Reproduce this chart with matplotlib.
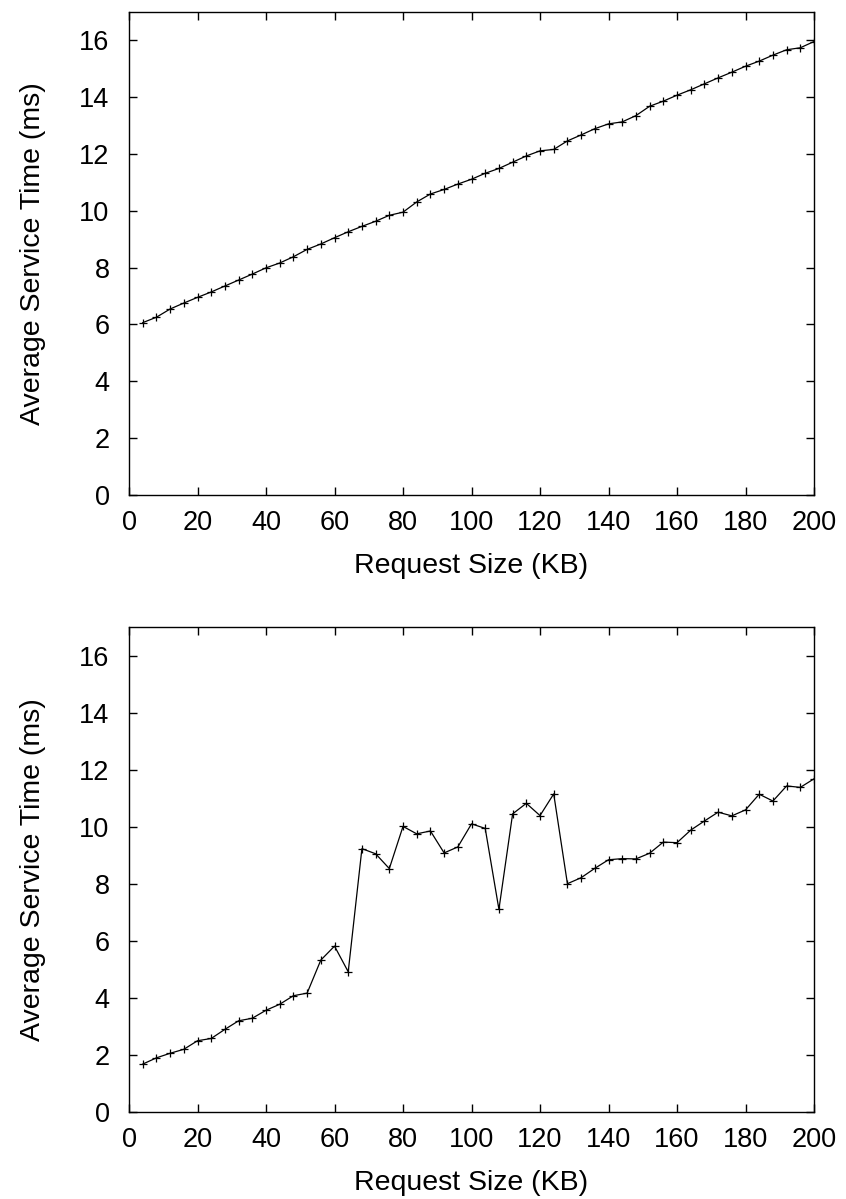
import matplotlib
matplotlib.use("Agg")
import matplotlib.pyplot as plt

plt.rcParams["font.family"] = ["Liberation Sans", "DejaVu Sans"]

# Request sizes (KB), same for both panels
request_kb = list(range(4, 201, 4))

# Top panel: average service time (ms)
top_ms = [
    6.06, 6.25, 6.54, 6.75, 6.95, 7.14, 7.35, 7.56, 7.77, 7.99,
    8.16, 8.38, 8.64, 8.83, 9.05, 9.26, 9.45, 9.63, 9.84, 9.95,
    10.31, 10.59, 10.75, 10.94, 11.11, 11.32, 11.49, 11.71, 11.93, 12.11,
    12.16, 12.46, 12.67, 12.89, 13.06, 13.13, 13.35, 13.68, 13.86, 14.07,
    14.26, 14.47, 14.68, 14.88, 15.09, 15.27, 15.48, 15.67, 15.74, 15.96,
]

# Bottom panel: average service time (ms)
bottom_ms = [
    1.67, 1.89, 2.05, 2.19, 2.49, 2.57, 2.89, 3.19, 3.28, 3.56,
    3.77, 4.07, 4.16, 5.32, 5.81, 4.91, 9.23, 9.05, 8.53, 10.01,
    9.75, 9.85, 9.08, 9.29, 10.10, 9.94, 7.10, 10.45, 10.82, 10.39,
    11.15, 8.00, 8.21, 8.54, 8.84, 8.88, 8.87, 9.07, 9.46, 9.44,
    9.88, 10.20, 10.51, 10.38, 10.59, 11.14, 10.90, 11.43, 11.38, 11.68,
]

x_ticks = list(range(0, 201, 20))
y_ticks = list(range(0, 17, 2))

fig = plt.figure(figsize=(8.46, 11.99), dpi=100)
ax_top = fig.add_axes([0.1525, 0.5874, 0.8097, 0.4026])
ax_bot = fig.add_axes([0.1525, 0.0728, 0.8097, 0.4041])

for ax, values in [(ax_top, top_ms), (ax_bot, bottom_ms)]:
    ax.plot(
        request_kb,
        values,
        color="black",
        linewidth=0.9,
        marker="+",
        markersize=6,
        markeredgewidth=0.9,
    )
    ax.set_xlim(0, 200)
    ax.set_ylim(0, 17)
    ax.set_xticks(x_ticks)
    ax.set_yticks(y_ticks)
    ax.tick_params(axis="x", pad=11)
    ax.tick_params(axis="y", pad=14)
    ax.tick_params(
        axis="both",
        direction="in",
        length=6,
        width=1,
        top=True,
        right=True,
        labelsize=19.5,
    )
    for spine in ax.spines.values():
        spine.set_linewidth(1)
    ax.set_xlabel("Request Size (KB)", fontsize=20.5, labelpad=12)
    ax.set_ylabel("Average Service Time (ms)", fontsize=20.5, labelpad=24)

plt.savefig("out.png", dpi=100)
